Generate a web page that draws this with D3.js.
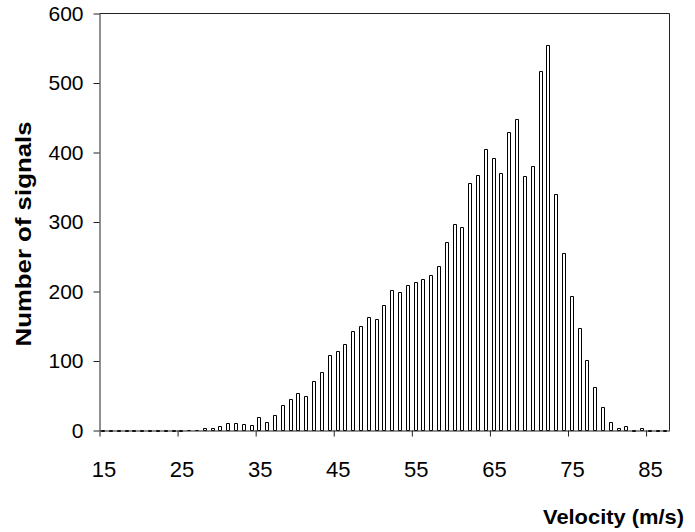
<!DOCTYPE html>
<html>
<head>
<meta charset="utf-8">
<script src="https://cdn.jsdelivr.net/npm/d3@7"></script>
<style>
  html, body { margin: 0; padding: 0; background: #fff; }
  svg { display: block; font-family: "Liberation Sans", Arial, sans-serif; }
</style>
</head>
<body>
<svg id="chart" width="695" height="532"></svg>
<script>
// Histogram bins (lower edge of each 1 m/s bin)
const velocityBins = [15,16,17,18,19,20,21,22,23,24,25,26,27,28,29,30,31,32,33,34,35,36,37,38,39,40,
  41,42,43,44,45,46,47,48,49,50,51,52,53,54,55,56,57,58,59,60,61,62,63,64,65,66,67,68,69,70,
  71,72,73,74,75,76,77,78,79,80,81,82,83,84,85,86,87];
const signalCounts = [0,0,0,0,0,0,0,0,0,0,0,1,1,3,3,6,11,11,10,8,19,12,22,37,45,54,
  49,71,84,109,114,124,143,151,163,161,180,202,199,209,213,218,224,237,271,297,293,356,367,405,392,370,430,448,366,381,
  517,554,341,256,193,147,102,62,34,12,4,7,0,4,0,0,0];
const xTicks = [15,25,35,45,55,65,75,85];
const yTicks = [0,100,200,300,400,500,600];
const xDomain = [15, 88];
const yDomain = [0, 600];
const xTitle = "Velocity (m/s)";
const yTitle = "Number of signals";

(function () {
const svg = d3.select("#chart");
const mLeft = 99.5, mRight = 669.5, mTop = 13.5, mBottom = 430.5;

const x = d3.scaleLinear().domain(xDomain).range([mLeft, mRight]);
const y = d3.scaleLinear().domain(yDomain).range([mBottom, mTop]);

// frame (top and right)
svg.append("path")
  .attr("d", `M${mLeft},${mTop}H${mRight}V${mBottom}`)
  .attr("fill", "none").attr("stroke", "#222").attr("stroke-width", 1);

// bars
const binW = x(xDomain[0] + 1) - x(xDomain[0]);
const barW = binW * 0.55;
svg.append("g").selectAll("path")
  .data(velocityBins.map((v, i) => ({v, c: signalCounts[i]})))
  .join("path")
  .attr("d", d => {
    const x0 = Math.round(x(d.v) + (binW - barW) / 2) + 0.5;
    const x1 = x0 + Math.round(barW) - 1;
    const y0 = y(0);
    const y1 = Math.round(y(d.c)) + 0.5;
    return `M${x0},${y0}V${y1}H${x1}V${y0}Z`;
  })
  .attr("fill", "#fff").attr("stroke", "#000").attr("stroke-width", 1);

// y axis
const yAxis = svg.append("g").attr("transform", `translate(${mLeft},0)`)
  .call(d3.axisLeft(y).tickValues(yTicks).tickSize(6).tickSizeOuter(0).tickPadding(10));
yAxis.select(".domain").attr("stroke", "#222");
yAxis.selectAll(".tick line").attr("stroke", "#222");
yAxis.selectAll("text").attr("font-size", 21).attr("fill", "#000")
  .attr("font-family", "Liberation Sans, Arial, sans-serif");

// x axis
const xAxis = svg.append("g").attr("transform", `translate(0,${mBottom})`)
  .call(d3.axisBottom(x).tickValues(xTicks).tickSize(6).tickSizeOuter(0).tickPadding(25));
xAxis.select(".domain").attr("stroke", "#222");
xAxis.selectAll(".tick line").attr("stroke", "#222");
xAxis.selectAll("text").attr("font-size", 22).attr("fill", "#000").attr("dx", 4)
  .attr("font-family", "Liberation Sans, Arial, sans-serif");

// axis titles
svg.append("text")
  .attr("x", 543).attr("y", 524)
  .attr("font-size", 21).attr("font-weight", "bold")
  .attr("textLength", 141).attr("lengthAdjust", "spacingAndGlyphs")
  .text(xTitle);

svg.append("text")
  .attr("transform", "translate(30.5,234) rotate(-90)")
  .attr("text-anchor", "middle")
  .attr("font-size", 22).attr("font-weight", "bold")
  .attr("textLength", 225).attr("lengthAdjust", "spacingAndGlyphs")
  .text(yTitle);
})();
</script>
</body>
</html>
